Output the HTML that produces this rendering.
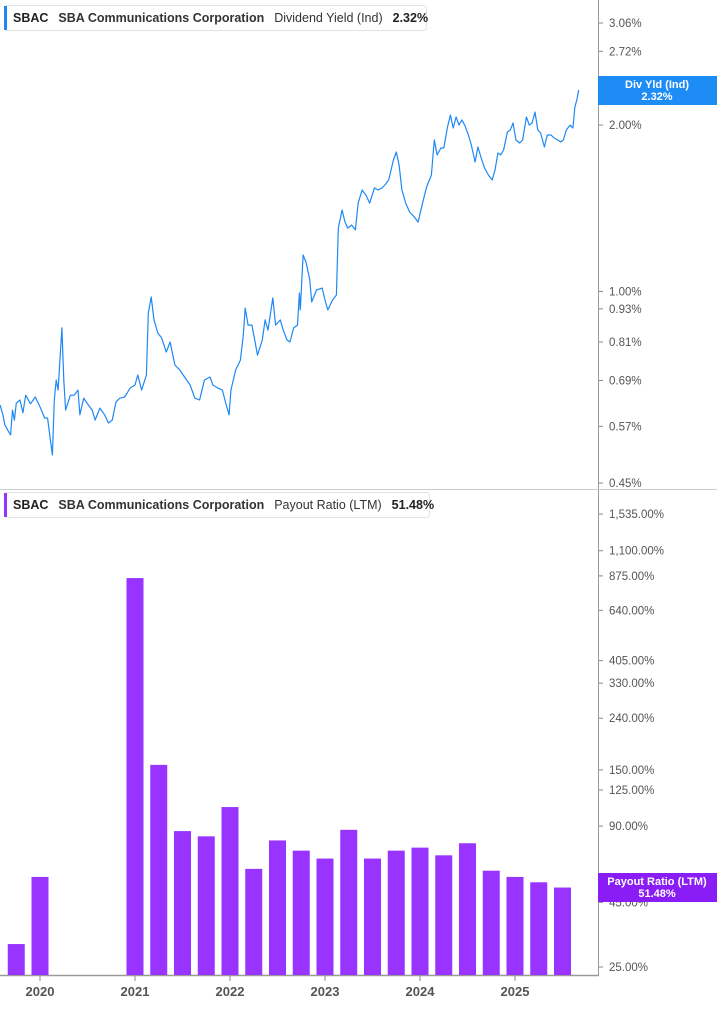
<!DOCTYPE html>
<html><head><meta charset="utf-8"><style>
html,body{margin:0;padding:0;background:#fff;}
body{width:717px;height:1005px;overflow:hidden;font-family:"Liberation Sans",sans-serif;}
svg text{font-family:"Liberation Sans",sans-serif;}
</style></head><body>
<svg id="chart" width="717" height="1005" viewBox="0 0 717 1005" xmlns="http://www.w3.org/2000/svg">
<rect x="0" y="0" width="717" height="1005" fill="#fff"/>
<line x1="598.5" y1="0" x2="598.5" y2="975" stroke="#999" stroke-width="1"/>
<line x1="0" y1="489.5" x2="717" y2="489.5" stroke="#ccc" stroke-width="1"/>
<line x1="0" y1="975.5" x2="599" y2="975.5" stroke="#999" stroke-width="1.5"/>
<g id="topAxis"></g>
<g id="botAxis"></g>
<g id="xAxis"></g>
<g id="bars"></g>
<path id="yieldLine" fill="none" stroke="#1e88f5" stroke-width="1.2" stroke-linejoin="round"/>
<g>
<rect x="4.5" y="5.5" width="422" height="25" rx="3" fill="#fff" stroke="#e3e3e3"/>
<rect x="4" y="6" width="3" height="24" fill="#1e88f5"/>
<text x="13" y="22" font-size="12.5" fill="#222"><tspan font-weight="bold">SBAC</tspan><tspan dx="10" font-weight="bold" fill="#333">SBA Communications Corporation</tspan><tspan dx="10" fill="#333">Dividend Yield (Ind)</tspan><tspan dx="10" font-weight="bold">2.32%</tspan></text>
</g>
<g>
<rect x="4.5" y="492.5" width="425" height="25" rx="3" fill="#fff" stroke="#e3e3e3"/>
<rect x="4" y="493" width="3" height="24" fill="#9333fb"/>
<text x="13" y="509" font-size="12.5" fill="#222"><tspan font-weight="bold">SBAC</tspan><tspan dx="10" font-weight="bold" fill="#333">SBA Communications Corporation</tspan><tspan dx="10" fill="#333">Payout Ratio (LTM)</tspan><tspan dx="10" font-weight="bold">51.48%</tspan></text>
</g>
<g>
<rect x="598" y="76" width="119" height="29" fill="#1e8cf5"/>
<text x="657" y="88" font-size="11" font-weight="bold" fill="#fff" text-anchor="middle">Div Yld (Ind)</text>
<text x="657" y="100" font-size="11" font-weight="bold" fill="#fff" text-anchor="middle">2.32%</text>
</g>
<g>
<rect x="598" y="873" width="119" height="29" fill="#8a1cf5"/>
<text x="657" y="885" font-size="11" font-weight="bold" fill="#fff" text-anchor="middle">Payout Ratio (LTM)</text>
<text x="657" y="897" font-size="11" font-weight="bold" fill="#fff" text-anchor="middle">51.48%</text>
</g>
</svg>
<script>
const yieldDates=[2019.58,2019.61,2019.63,2019.66,2019.69,2019.71,2019.73,2019.75,2019.79,2019.82,2019.85,2019.90,2019.95,2020.00,2020.05,2020.08,2020.11,2020.13,2020.15,2020.17,2020.19,2020.23,2020.25,2020.27,2020.32,2020.36,2020.40,2020.42,2020.46,2020.51,2020.55,2020.58,2020.63,2020.68,2020.72,2020.76,2020.80,2020.84,2020.89,2020.95,2021.00,2021.03,2021.07,2021.12,2021.14,2021.17,2021.20,2021.24,2021.28,2021.33,2021.37,2021.42,2021.47,2021.53,2021.58,2021.63,2021.68,2021.73,2021.79,2021.82,2021.87,2021.92,2021.96,2021.99,2022.01,2022.06,2022.11,2022.14,2022.16,2022.19,2022.23,2022.26,2022.29,2022.34,2022.37,2022.40,2022.45,2022.48,2022.53,2022.56,2022.60,2022.63,2022.67,2022.71,2022.73,2022.74,2022.77,2022.80,2022.84,2022.86,2022.91,2022.97,2023.00,2023.03,2023.08,2023.12,2023.14,2023.18,2023.21,2023.24,2023.28,2023.32,2023.35,2023.39,2023.43,2023.47,2023.52,2023.56,2023.60,2023.63,2023.67,2023.72,2023.75,2023.78,2023.81,2023.85,2023.89,2023.94,2023.98,2024.01,2024.04,2024.07,2024.12,2024.15,2024.18,2024.22,2024.25,2024.29,2024.32,2024.35,2024.38,2024.41,2024.44,2024.47,2024.51,2024.54,2024.58,2024.61,2024.65,2024.68,2024.72,2024.76,2024.79,2024.82,2024.85,2024.88,2024.92,2024.95,2024.98,2025.01,2025.05,2025.08,2025.12,2025.15,2025.18,2025.21,2025.24,2025.27,2025.31,2025.34,2025.38,2025.41,2025.45,2025.48,2025.51,2025.54,2025.58,2025.61,2025.63,2025.65,2025.67];
const yieldValues=[0.623,0.598,0.573,0.561,0.550,0.610,0.585,0.628,0.636,0.603,0.649,0.626,0.644,0.618,0.590,0.590,0.538,0.506,0.636,0.691,0.663,0.859,0.691,0.610,0.649,0.649,0.663,0.598,0.641,0.623,0.610,0.585,0.615,0.598,0.578,0.585,0.631,0.641,0.644,0.669,0.677,0.706,0.663,0.706,0.914,0.977,0.888,0.841,0.824,0.777,0.810,0.736,0.721,0.697,0.677,0.641,0.636,0.691,0.700,0.677,0.669,0.663,0.623,0.598,0.663,0.721,0.751,0.834,0.933,0.869,0.869,0.817,0.767,0.817,0.888,0.851,0.973,0.869,0.888,0.851,0.817,0.810,0.859,0.869,0.993,0.926,1.164,1.130,1.049,0.957,1.006,1.014,0.965,0.926,0.965,0.985,1.302,1.404,1.335,1.302,1.319,1.292,1.445,1.526,1.494,1.445,1.539,1.526,1.539,1.558,1.591,1.729,1.788,1.693,1.526,1.445,1.392,1.364,1.335,1.404,1.476,1.545,1.624,1.879,1.766,1.818,1.818,1.984,2.086,1.976,2.068,2.000,2.043,2.000,1.919,1.841,1.715,1.825,1.729,1.672,1.624,1.591,1.658,1.780,1.766,1.803,1.943,1.959,2.017,1.879,1.856,1.879,2.068,2.000,2.017,2.111,1.959,1.935,1.825,1.919,1.919,1.895,1.879,1.864,1.879,1.959,2.000,1.976,2.156,2.220,2.315];
const payoutDates=[2019.75,2020.00,2021.00,2021.25,2021.50,2021.75,2022.00,2022.25,2022.50,2022.75,2023.00,2023.25,2023.50,2023.75,2024.00,2024.25,2024.50,2024.75,2025.00,2025.25,2025.50];
const payoutValues=[30.8,56.7,858,157,86,82,107,61,79,72,67,87,67,72,74,69,77,60,56.7,54,51.48];
const yieldTicks=[3.06,2.72,2.00,1.00,0.93,0.81,0.69,0.57,0.45];
const payoutTicks=[1535,1100,875,640,405,330,240,150,125,90,55,45,25];
const yearTicks=[2020,2021,2022,2023,2024,2025];

const NS="http://www.w3.org/2000/svg";
function xScale(yr){return 40+(yr-2020)*95;}
function yTop(v){return 23+(Math.log(3.06)-Math.log(v))*240;}
function yBot(v){return 967-Math.log(v/25)*110;}
function mk(tag,attrs,parent){const e=document.createElementNS(NS,tag);for(const k in attrs)e.setAttribute(k,attrs[k]);parent.appendChild(e);return e;}
function fmt(v){return v.toFixed(2).replace(/\B(?=(\d{3})+(?!\d))/g,",")+"%";}

const topAxis=document.getElementById('topAxis');
yieldTicks.forEach(v=>{const y=yTop(v);
 const t=mk('line',{x1:599,x2:603,y1:y,y2:y,stroke:'#888'},topAxis);
 
 
 const l=mk('text',{x:609,y:y+4,'font-size':11.5,fill:'#555'},topAxis);
 
 
 l.textContent=fmt(v);});

const botAxis=document.getElementById('botAxis');
payoutTicks.forEach(v=>{const y=yBot(v);
 const t=mk('line',{x1:599,x2:603,y1:y,y2:y,stroke:'#888'},botAxis);
 
 
 const l=mk('text',{x:609,y:y+4,'font-size':11.5,fill:'#555'},botAxis);
 
 
 l.textContent=fmt(v);});

const xAxis=document.getElementById('xAxis');
yearTicks.forEach(yr=>{const x=xScale(yr);
 const t=mk('line',{x1:x,x2:x,y1:976,y2:981,stroke:'#888'},xAxis);
 
 
 const l=mk('text',{x:x,y:996,'font-size':13,'font-weight':'bold',fill:'#555','text-anchor':'middle'},xAxis);
 
 
 l.textContent=yr;});

const bars=document.getElementById('bars');
payoutDates.forEach((d,i)=>{const x=xScale(d),y=yBot(payoutValues[i]);
 const r=mk('rect',{x:x-8.5,y:y,width:17,height:975-y,fill:'#9933ff'},bars);
 
 });

let dstr='';
yieldDates.forEach((d,i)=>{dstr+=(i?'L':'M')+xScale(d).toFixed(1)+','+yTop(yieldValues[i]).toFixed(1);});
document.getElementById('yieldLine').setAttribute('d',dstr);
</script>
</body></html>
